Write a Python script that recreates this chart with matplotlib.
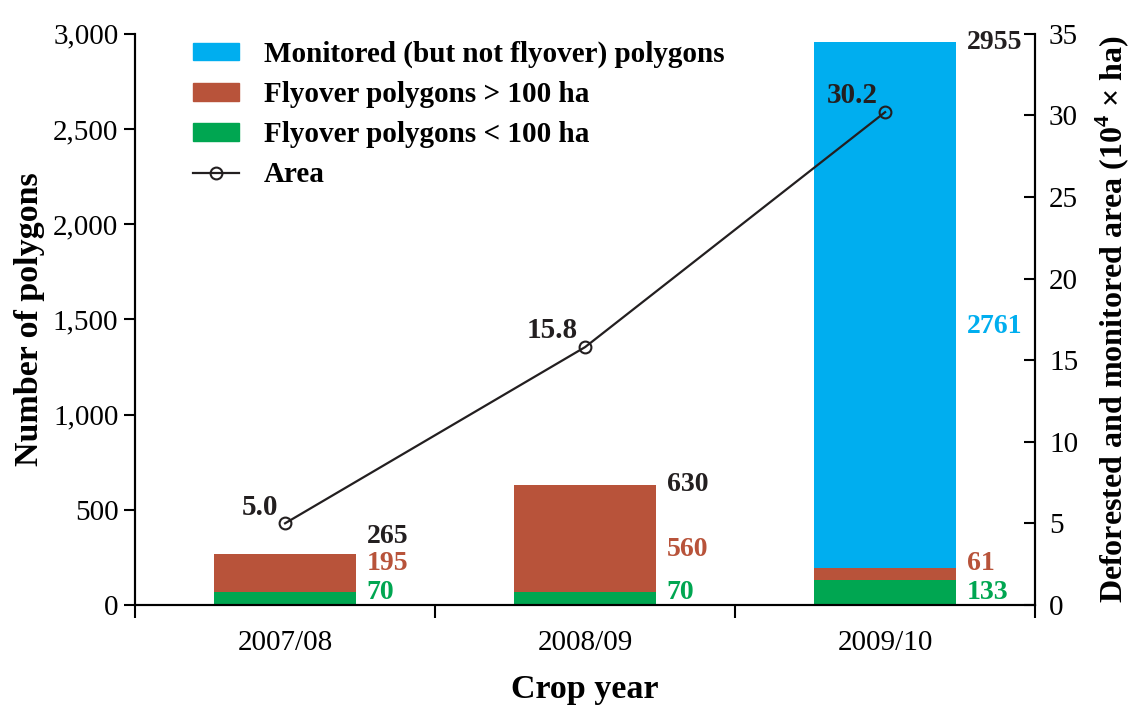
import numpy as np
import matplotlib.pyplot as plt
from matplotlib.patches import Patch
from matplotlib.lines import Line2D

# -------------------
# DATA
# -------------------
crop_years = ['2007/08', '2008/09', '2009/10']
flyover_small = [70, 70, 133]      # flyover polygons < 100 ha
flyover_large = [195, 560, 61]     # flyover polygons > 100 ha
monitored = [0, 0, 2761]           # monitored (but not flyover) polygons
totals = [265, 630, 2955]
area = [5.0, 15.8, 30.2]           # 10^4 x ha

c_blue = '#00AEEF'
c_red = '#B8533A'
c_green = '#00A651'
c_black = '#231f20'

plt.rcParams['font.family'] = ['Liberation Serif', 'DejaVu Serif']
plt.rcParams['mathtext.fontset'] = 'custom'
plt.rcParams['mathtext.rm'] = 'Liberation Serif:bold'
plt.rcParams['axes.linewidth'] = 1.5

fig = plt.figure(figsize=(11.35, 7.05), dpi=100)
ax = fig.add_axes([0.119, 0.142, 0.793, 0.810])

x = np.arange(len(crop_years))
width = 0.475
bottom_red = np.array(flyover_small)
bottom_blue = bottom_red + np.array(flyover_large)

ax.bar(x, flyover_small, width, color=c_green, zorder=2)
ax.bar(x, flyover_large, width, bottom=bottom_red, color=c_red, zorder=2)
ax.bar(x, monitored, width, bottom=bottom_blue, color=c_blue, zorder=2)

# -------------------
# BAR LABELS
# -------------------
lab_x = x + width / 2 + 0.035
lab_size = 20
for i in range(len(x)):
    ax.text(lab_x[i], 0, str(flyover_small[i]), color=c_green, fontsize=lab_size,
            fontweight='bold', va='bottom', ha='left')
    y_red = max(flyover_small[i] + flyover_large[i] / 2 - 60, 215)
    ax.text(lab_x[i], y_red, str(flyover_large[i]), color=c_red, fontsize=lab_size,
            fontweight='bold', va='center', ha='left')
    if monitored[i] > 0:
        y_blue = bottom_blue[i] + monitored[i] / 2 - 110
        ax.text(lab_x[i], y_blue, str(monitored[i]), color=c_blue, fontsize=lab_size,
                fontweight='bold', va='center', ha='left')
    y_tot = max(totals[i], y_red + 142)
    ax.text(lab_x[i], y_tot, str(totals[i]), color=c_black, fontsize=lab_size,
            fontweight='bold', va='center', ha='left')

# -------------------
# AXES FORMAT
# -------------------
ax.set_xlim(-0.5, 2.5)
ax.set_ylim(0, 3000)
ax.set_yticks(np.arange(0, 3001, 500))
ax.set_yticklabels([f'{v:,}' for v in range(0, 3001, 500)], fontsize=21)
ax.set_xticks([-0.5, 0.5, 1.5, 2.5])
ax.set_xticklabels([])
ax.set_xticks(x, minor=True)
ax.set_xticklabels(crop_years, minor=True, fontsize=21)
ax.tick_params(axis='x', which='major', direction='out', length=9, width=1.5)
ax.tick_params(axis='x', which='minor', length=0, pad=18)
ax.tick_params(axis='y', direction='out', length=8, width=1.5, pad=4)
ax.spines['top'].set_visible(False)
ax.set_xlabel('Crop year', fontsize=24.5, fontweight='bold', labelpad=13)
ax.set_ylabel('Number of polygons', fontsize=24.5, fontweight='bold', labelpad=6)

# -------------------
# AREA LINE (right axis)
# -------------------
ax2 = ax.twinx()
ax2.plot(x, area, color=c_black, lw=1.6, marker='o', markersize=8.5,
         markerfacecolor='none', markeredgewidth=1.5, zorder=3)
for i in range(len(x)):
    ax2.annotate(f'{area[i]:.1f}', (x[i], area[i]), xytext=(-5, 2),
                 textcoords='offset points', ha='right', va='bottom',
                 fontsize=21, fontweight='bold', color=c_black)
ax2.set_ylim(0, 35)
ax2.set_yticks(np.arange(0, 36, 5))
ax2.tick_params(axis='y', direction='in', length=8, width=1.5, labelsize=21, pad=10)
ax2.spines['top'].set_visible(False)
ax2.set_ylabel('Deforested and monitored area (10$^{4}$ × ha)', fontsize=23,
               fontweight='bold', labelpad=11)

# -------------------
# LEGEND
# -------------------
handles = [Patch(color=c_blue), Patch(color=c_red), Patch(color=c_green),
           Line2D([], [], color=c_black, lw=1.6, marker='o', markersize=8.5,
                  markerfacecolor='none', markeredgewidth=1.5)]
labels = ['Monitored (but not flyover) polygons', 'Flyover polygons > 100 ha',
          'Flyover polygons < 100 ha', 'Area']
ax2.legend(handles, labels, loc='upper left', bbox_to_anchor=(0.064, 0.988),
           frameon=False, prop={'size': 21, 'weight': 'bold'},
           handlelength=1.6, handleheight=0.55, handletextpad=0.85,
           labelspacing=0.45, borderpad=0, borderaxespad=0)

plt.savefig('out.png', dpi=100)
